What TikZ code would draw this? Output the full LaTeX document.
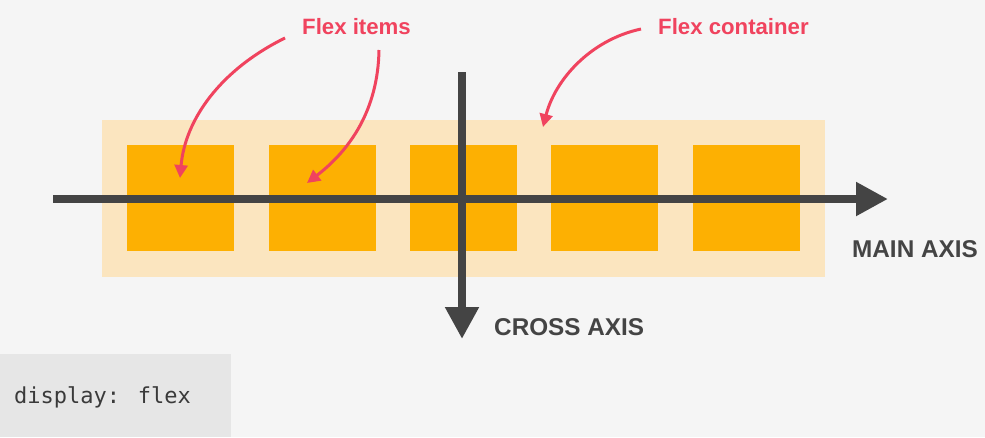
\documentclass[tikz,border=0pt]{standalone}
\usepackage{fontspec}
\setmainfont{Liberation Sans}
\newfontfamily\codefont{DejaVu Sans Mono}
\usetikzlibrary{arrows.meta}
\definecolor{bg}{HTML}{F5F5F5}
\definecolor{cont}{HTML}{FBE5BF}
\definecolor{item}{HTML}{FDB002}
\definecolor{axis}{HTML}{444444}
\definecolor{lbl}{HTML}{F0435E}
\definecolor{codebg}{HTML}{E6E6E6}
\definecolor{codefg}{HTML}{3A3A3A}
\tikzset{
  itembox/.style={fill=item, draw=none, minimum width=107pt, minimum height=106pt, inner sep=0pt},
  axisline/.style={draw=axis, line width=8pt, -{Triangle[length=32pt,width=32pt]}},
  axislbl/.style={text=axis, font=\fontsize{24.3}{27}\selectfont\bfseries, inner sep=0pt},
  redlbl/.style={text=lbl, font=\fontsize{22.2}{25}\selectfont\bfseries, inner sep=0pt},
  redarrow/.style={draw=lbl, line width=3pt, -{Triangle[length=13pt,width=13pt]}},
}
\begin{document}
\begin{tikzpicture}[x=1pt,y=-1pt]
\fill[bg] (0,0) rectangle (985,437);
\useasboundingbox (0,0) rectangle (985,437);
% container
\node[fill=cont, minimum width=723pt, minimum height=157pt, inner sep=0pt, anchor=north west] (container) at (102,120) {};
% items
\node[itembox, anchor=north west] (i1) at (127,145) {};
\node[itembox, anchor=north west] (i2) at (269,145) {};
\node[itembox, anchor=north west] (i3) at (410,145) {};
\node[itembox, anchor=north west] (i4) at (551,145) {};
\node[itembox, anchor=north west] (i5) at (693,145) {};
% axes
\coordinate (mstart) at (53,199);
\coordinate (mend) at (888,199);
\coordinate (cstart) at (462,72);
\coordinate (cend) at (462,339);
\draw[axisline] (mstart) -- (mend);
\draw[axisline] (cstart) -- (cend);
\node[axislbl, anchor=west] (mainlbl) at (852,249) {MAIN AXIS};
\node[axislbl, anchor=west] (crosslbl) at (494,327) {CROSS AXIS};
% labels
\node[redlbl, anchor=west] (itemslbl) at (302,27) {Flex items};
\node[redlbl, anchor=west] (contlbl) at (658,27) {Flex container};
\coordinate (a1s) at (285,38);
\coordinate (a1e) at (180,178);
\coordinate (a2s) at (379,50);
\coordinate (a2e) at (307,183);
\coordinate (a3s) at (641,29);
\coordinate (a3e) at (543,127);
\draw[redarrow] (a1s) .. controls (220,70) and (185,120) .. (a1e);
\draw[redarrow] (a2s) .. controls (378,110) and (350,150) .. (a2e);
\draw[redarrow] (a3s) .. controls (590,40) and (555,80) .. (a3e);
% code box
\node[fill=codebg, minimum width=231pt, minimum height=83pt, inner sep=0pt, anchor=north west] (codebox) at (0,354) {};
\node[text=codefg, font=\codefont\fontsize{22}{24}\selectfont, anchor=west, inner sep=0pt] (code) at (14,397) {display: flex};
\end{tikzpicture}
\end{document}
